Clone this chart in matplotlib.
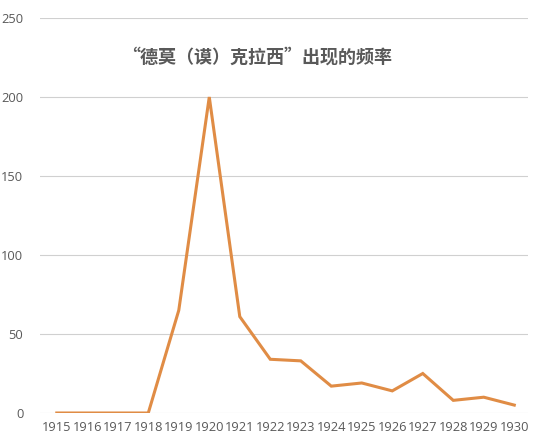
import matplotlib.pyplot as plt

plt.rcParams['font.family'] = ['Noto Sans CJK SC', 'DejaVu Sans']

# data
years = ['1915', '1916', '1917', '1918', '1919', '1920', '1921', '1922',
         '1923', '1924', '1925', '1926', '1927', '1928', '1929', '1930']
counts = [0, 0, 0, 0, 65, 200, 61, 34, 33, 17, 19, 14, 25, 8, 10, 5]
yticks = [0, 50, 100, 150, 200, 250]
title = '“德莫（谟）克拉西”出现的频率'

fig = plt.figure(figsize=(5.44, 4.46), dpi=100)
ax = fig.add_axes([40 / 544, 1 - 413 / 446, 488 / 544, 395 / 446])

x = range(len(years))
ax.plot(x, counts, color='#E08C45', linewidth=2.2, solid_joinstyle='miter')

ax.set_xlim(-0.55, 15.45)
ax.set_ylim(0, 250)
ax.set_yticks(yticks)
ax.set_xticks(list(x))
ax.set_xticklabels(years)

ax.grid(axis='y', color='#D0D0D0', linewidth=0.8)
ax.set_axisbelow(True)
for s in ax.spines.values():
    s.set_visible(False)
ax.tick_params(length=0, colors='#595959', labelsize=9.3)
ax.tick_params(axis='x', pad=6)
ax.tick_params(axis='y', pad=12)
for lbl in ax.get_xticklabels() + ax.get_yticklabels():
    lbl.set_fontfamily(['Open Sans', 'DejaVu Sans'])

fig.text(257 / 544, 1 - 57 / 446, title, ha='center', va='center',
         fontsize=13, fontweight='bold', color='#595959')

fig.savefig('out.png', dpi=100)
